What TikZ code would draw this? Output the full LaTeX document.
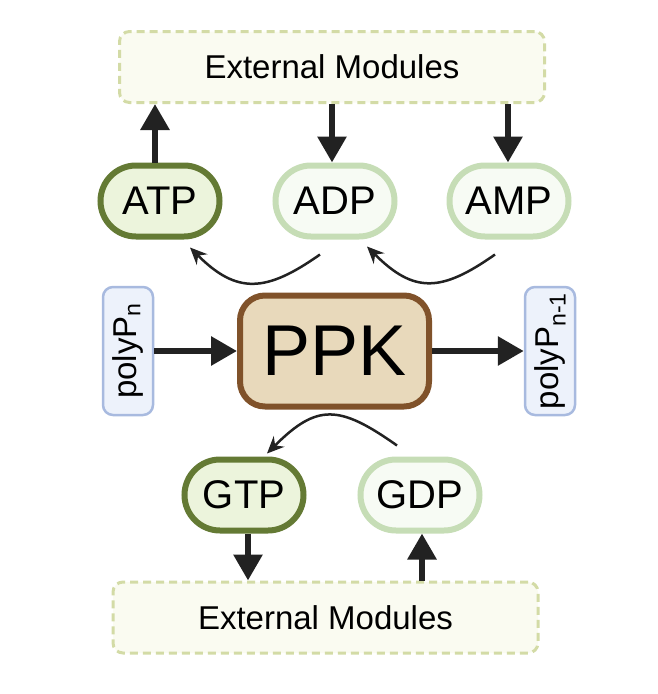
\documentclass[tikz,border=0pt]{standalone}
\usepackage{fontspec}
\setmainfont{Liberation Sans}
\usetikzlibrary{arrows.meta,shapes.misc}

\definecolor{darkleaf}{RGB}{100,122,52}
\definecolor{darkleaffill}{RGB}{236,244,220}
\definecolor{paleleaf}{RGB}{198,221,182}
\definecolor{paleleaffill}{RGB}{247,251,244}
\definecolor{extline}{RGB}{211,219,166}
\definecolor{extfill}{RGB}{250,251,241}
\definecolor{polyline}{RGB}{168,186,223}
\definecolor{polyfill}{RGB}{237,242,251}
\definecolor{ppkline}{RGB}{128,82,42}
\definecolor{ppkfill}{RGB}{232,217,187}
\definecolor{arrowgray}{RGB}{34,34,34}

\begin{document}
\begin{tikzpicture}[x=1pt,y=-1pt,font=\fontsize{33}{38}\selectfont]
    \tikzstyle{extbox}=[rectangle,rounded corners=10pt,draw=extline,fill=extfill,line width=3pt,dash pattern=on 8pt off 5pt,minimum width=425pt,minimum height=71pt]
    \tikzstyle{pill}=[rounded rectangle,line width=6pt,minimum width=119pt,minimum height=71pt,inner sep=0pt,font=\fontsize{40}{44}\selectfont]
    \tikzstyle{rich}=[pill,draw=darkleaf,fill=darkleaffill]
    \tikzstyle{poor}=[pill,draw=paleleaf,fill=paleleaffill]
    \tikzstyle{poly}=[rectangle,rounded corners=10pt,draw=polyline,fill=polyfill,line width=2.5pt,minimum width=128pt,minimum height=50pt,inner sep=0pt,rotate=90,font=\fontsize{33}{36}\selectfont]
    \tikzstyle{bigarrow}=[draw=arrowgray,line width=6pt,-{Triangle[width=28pt,length=26pt]},arrowgray]
    \tikzstyle{curvearrow}=[draw=arrowgray,line width=2.5pt,-{Stealth[length=17pt,width=15pt]},arrowgray]

    \useasboundingbox (0,0) rectangle (657,694);

    \node[extbox] (exttop) at (332,67) {External Modules};
    \node[extbox] (extbot) at (325.5,617.5) {External Modules};

    \node[rich] (atp) at (160,201) {ATP};
    \node[poor] (adp) at (335,201) {ADP};
    \node[poor] (amp) at (509,201) {AMP};

    \node[poly] (polyn) at (128,351) {polyP\textsubscript{n}};
    \node[poly] (polynm) at (550,351) {polyP\textsubscript{n-1}};
    \node[rectangle,rounded corners=25pt,draw=ppkline,fill=ppkfill,line width=6pt,minimum width=189pt,minimum height=111pt,font=\fontsize{72}{80}\selectfont] (ppk) at (334.5,351) {PPK};

    \node[rich] (gtp) at (244,495) {GTP};
    \node[poor] (gdp) at (420,495) {GDP};

    % exchange with the external modules
    \draw[bigarrow] ([xshift=-5pt]atp.north) -- ([xshift=-5pt]atp.north |- exttop.south);
    \draw[bigarrow] ([xshift=-3pt]adp.north |- exttop.south) -- ([xshift=-3pt]adp.north);
    \draw[bigarrow] ([xshift=-1pt]amp.north |- exttop.south) -- ([xshift=-1pt]amp.north);
    \draw[bigarrow] ([xshift=4pt]gtp.south) -- ([xshift=4pt]gtp.south |- extbot.north);
    \draw[bigarrow] ([xshift=2pt]gdp.south |- extbot.north) -- ([xshift=2pt]gdp.south);

    % polyphosphate through the kinase
    \draw[bigarrow] (polyn) -- (ppk);
    \draw[bigarrow] (ppk) -- (polynm);

    % phosphate transfer
    \draw[curvearrow] ([shift={(-15pt,-15pt)}]adp.south) .. controls +(-54,38) and +(47,47) .. ([shift={(30pt,-8pt)}]atp.south);
    \draw[curvearrow] ([shift={(-14pt,-15pt)}]amp.south) .. controls +(-54,38) and +(47,47) .. ([shift={(32pt,-7pt)}]adp.south);
    \draw[curvearrow] ([shift={(-23pt,11pt)}]gdp.north) .. controls +(-58,-41) and +(50,-50) .. ([shift={(23pt,3pt)}]gtp.north);
\end{tikzpicture}
\end{document}
